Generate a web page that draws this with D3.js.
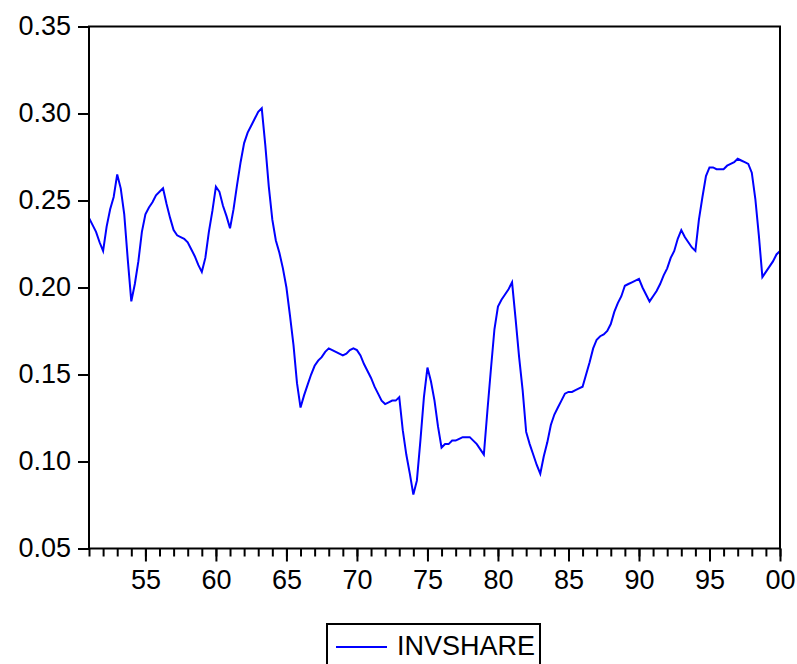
<!DOCTYPE html>
<html>
<head>
<meta charset="utf-8">
<script src="https://cdn.jsdelivr.net/npm/d3@7"></script>
<style>
  body { margin: 0; background: #fff; }
  svg { display: block; font-family: "Liberation Sans", Arial, sans-serif; }
  .axis text { font-size: 27px; fill: #000; }
  .axis line { stroke: #000; stroke-width: 2; }
  .axis path { display: none; }
</style>
</head>
<body>
<svg width="797" height="664"></svg>
<script>
// quarterly values, 1951Q1 .. 2000Q1
var invshare = [
  0.240, 0.236, 0.232, 0.226, 0.221, 0.235, 0.245, 0.252, 0.265, 0.257,
  0.242, 0.216, 0.192, 0.202, 0.215, 0.232, 0.242, 0.246, 0.249, 0.253,
  0.255, 0.257, 0.248, 0.240, 0.233, 0.230, 0.229, 0.228, 0.226, 0.222,
  0.218, 0.213, 0.209, 0.217, 0.232, 0.244, 0.258, 0.255, 0.247, 0.241,
  0.234, 0.245, 0.259, 0.272, 0.283, 0.289, 0.293, 0.297, 0.301, 0.303,
  0.282, 0.258, 0.239, 0.227, 0.220, 0.211, 0.200, 0.184, 0.167, 0.145,
  0.131, 0.138, 0.144, 0.150, 0.155, 0.158, 0.160, 0.163, 0.165, 0.164,
  0.163, 0.162, 0.161, 0.162, 0.164, 0.165, 0.164, 0.161, 0.156, 0.152,
  0.148, 0.143, 0.139, 0.135, 0.133, 0.134, 0.135, 0.135, 0.137, 0.118,
  0.104, 0.093, 0.081, 0.089, 0.112, 0.137, 0.154, 0.146, 0.135, 0.120,
  0.108, 0.110, 0.110, 0.112, 0.112, 0.113, 0.114, 0.114, 0.114, 0.112,
  0.110, 0.107, 0.104, 0.129, 0.153, 0.176, 0.189, 0.193, 0.196, 0.199,
  0.203, 0.182, 0.160, 0.141, 0.117, 0.110, 0.104, 0.098, 0.093, 0.103,
  0.111, 0.121, 0.127, 0.131, 0.135, 0.139, 0.140, 0.140, 0.141, 0.142,
  0.143, 0.150, 0.157, 0.165, 0.170, 0.172, 0.173, 0.175, 0.179, 0.186,
  0.191, 0.195, 0.201, 0.202, 0.203, 0.204, 0.205, 0.200, 0.196, 0.192,
  0.195, 0.198, 0.202, 0.207, 0.211, 0.217, 0.221, 0.228, 0.233, 0.229,
  0.226, 0.223, 0.221, 0.239, 0.252, 0.264, 0.269, 0.269, 0.268, 0.268,
  0.268, 0.270, 0.271, 0.272, 0.274, 0.273, 0.272, 0.271, 0.266, 0.251,
  0.230, 0.206, 0.209, 0.212, 0.215, 0.219, 0.221
];
var firstYear = 1951;
var lastYear = 2000;

var yTicks = [0.05, 0.10, 0.15, 0.20, 0.25, 0.30, 0.35];
var majorYears = [1955, 1960, 1965, 1970, 1975, 1980, 1985, 1990, 1995, 2000];
var yearLabels = ['55', '60', '65', '70', '75', '80', '85', '90', '95', '00'];
var seriesName = 'INVSHARE';

// **** scales ****
var plotLeft = 89, plotRight = 780, plotTop = 26.5, plotBottom = 548.5;

var xScale = d3.scaleLinear()
    .domain([firstYear, lastYear]).range([plotLeft, plotRight]);

var yScale = d3.scaleLinear()
    .domain([0.05, 0.35]).range([plotBottom, plotTop]);

var svg = d3.select('svg');

// **** axes ****
svg.append('g').attr('class', 'y axis')
    .attr('transform', 'translate(' + plotLeft + ',0)')
    .call(d3.axisLeft(yScale).tickValues(yTicks).tickSize(11).tickPadding(7)
        .tickFormat(d3.format('.2f')))
    .selectAll('text').attr('dy', '0.28em');

// minor ticks, one per year
svg.append('g').attr('class', 'x axis minor')
    .attr('transform', 'translate(0,' + plotBottom + ')')
    .call(d3.axisBottom(xScale).tickValues(d3.range(firstYear, lastYear + 1))
        .tickSize(8).tickFormat(''));

svg.append('g').attr('class', 'x axis')
    .attr('transform', 'translate(0,' + plotBottom + ')')
    .call(d3.axisBottom(xScale).tickValues(majorYears).tickSize(13).tickPadding(8)
        .tickFormat(function(d, i) { return yearLabels[i]; }));

// **** series ****
var line = d3.line()
    .x(function(d, i) { return xScale(firstYear + i / 4); })
    .y(function(d) { return yScale(d); });

svg.append('path')
    .datum(invshare)
    .attr('d', line)
    .attr('fill', 'none')
    .attr('stroke', '#0000ff')
    .attr('stroke-width', 2)
    .attr('stroke-linejoin', 'miter');

// frame
svg.append('rect')
    .attr('x', plotLeft).attr('y', plotTop)
    .attr('width', plotRight - plotLeft).attr('height', plotBottom - plotTop)
    .attr('fill', 'none').attr('stroke', '#000').attr('stroke-width', 2);

// **** legend ****
var legend = svg.append('g').attr('transform', 'translate(327,624)');

legend.append('rect')
    .attr('x', 0).attr('y', 0).attr('width', 213).attr('height', 60)
    .attr('fill', '#fff').attr('stroke', '#000').attr('stroke-width', 2);

legend.append('line')
    .attr('x1', 9).attr('x2', 60).attr('y1', 23).attr('y2', 23)
    .attr('stroke', '#0000ff').attr('stroke-width', 2);

legend.append('text')
    .attr('x', 70).attr('y', 31)
    .attr('font-size', '27px')
    .text(seriesName);
</script>
</body>
</html>
